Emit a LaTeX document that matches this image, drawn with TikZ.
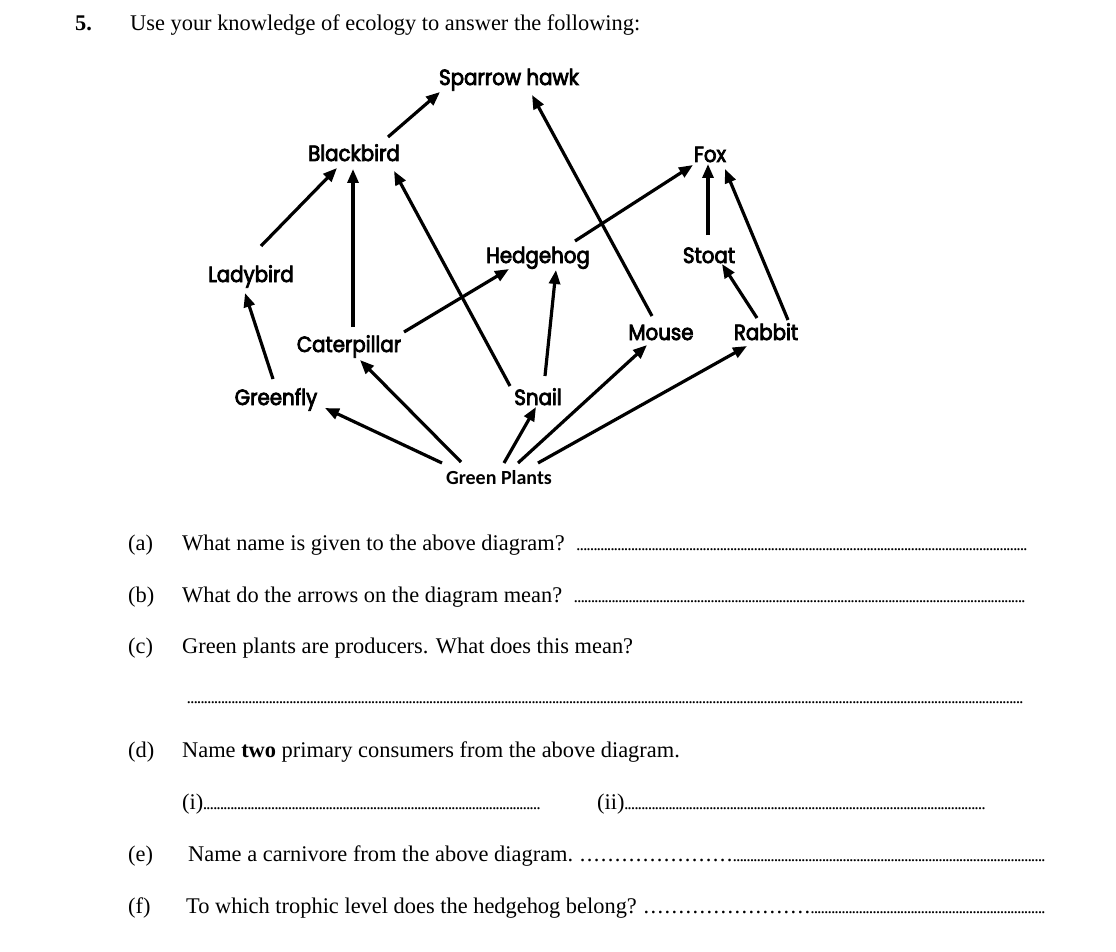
\documentclass[tikz,border=0pt]{standalone}
\usepackage{fontspec}
\setmainfont{Liberation Serif}
\newfontfamily\diagfont[FakeBold=3.5,FakeStretch=0.9]{Poppins}
\newfontfamily\gpfont{Carlito}
\usetikzlibrary{arrows.meta}
\newcommand\dd{\xleaders\hbox to 3.4pt{\hss\fontsize{18}{18}\selectfont.\hss}\hfill}
\newcommand\dsp[1]{\hbox to #1{\xleaders\hbox to 7pt{\hss.\hss}\hfill}}
\begin{document}
\begin{tikzpicture}[x=1pt,y=-1pt,
  lab/.style={anchor=base, inner sep=0pt, font=\diagfont\fontsize{22}{22}\selectfont},
  gp/.style={anchor=base, inner sep=0pt, font=\gpfont\bfseries\fontsize{20}{20}\selectfont},
  q/.style={anchor=base west, inner sep=0pt, font=\fontsize{22.4}{26}\selectfont},
  arr/.style={line width=3.2pt, -{Triangle[length=14pt,width=11pt]}}]
\useasboundingbox[fill=white] (0,0) rectangle (1116,952);
% food web nodes
\node[lab] (sh) at (509,85) {Sparrow hawk};
\node[lab] (bb) at (354,161) {Blackbird};
\node[lab] (fox) at (710,162) {Fox};
\node[lab] (hh) at (538,263) {Hedgehog};
\node[lab] (st) at (709,263) {Stoat};
\node[lab] (lb) at (251,282) {Ladybird};
\node[lab] (cat) at (349,352) {Caterpillar};
\node[lab] (ms) at (661,340) {Mouse};
\node[lab] (rb) at (766,340) {Rabbit};
\node[lab] (gf) at (276,405) {Greenfly};
\node[lab] (sn) at (538,405) {Snail};
\node[gp] (gpl) at (499,484) {Green Plants};
% arrows
\draw[arr] ([shift={(34,-24)}]bb.base) -- ([shift={(-69,7)}]sh.base);
\draw[arr] ([shift={(10,-36)}]lb.base) -- ([shift={(-17,7)}]bb.base);
\draw[arr] ([shift={(4,-25)}]cat.base) -- ([shift={(-1,8)}]bb.base);
\draw[arr] ([shift={(-28,-19)}]sn.base) -- ([shift={(40,10)}]bb.base);
\draw[arr] ([shift={(-9,-24)}]ms.base) -- ([shift={(23,10)}]sh.base);
\draw[arr] ([shift={(37,-22)}]hh.base) -- ([shift={(-17,3)}]fox.base);
\draw[arr] ([shift={(-1,-28)}]st.base) -- ([shift={(-2,2)}]fox.base);
\draw[arr] ([shift={(22,-20)}]rb.base) -- ([shift={(15,7)}]fox.base);
\draw[arr] ([shift={(55,-20)}]cat.base) -- ([shift={(-29,6)}]hh.base);
\draw[arr] ([shift={(7,-29)}]sn.base) -- ([shift={(18,7)}]hh.base);
\draw[arr] ([shift={(-9,-22)}]rb.base) -- ([shift={(13,1)}]st.base);
\draw[arr] ([shift={(-3,-26)}]gf.base) -- ([shift={(-6,11)}]lb.base);
\draw[arr] ([shift={(-57,-21)}]gpl.base) -- ([shift={(49,3)}]gf.base);
\draw[arr] ([shift={(-38,-22)}]gpl.base) -- ([shift={(11,8)}]cat.base);
\draw[arr] ([shift={(5,-21)}]gpl.base) -- ([shift={(-2,2)}]sn.base);
\draw[arr] ([shift={(19,-21)}]gpl.base) -- ([shift={(-14,5)}]ms.base);
\draw[arr] ([shift={(39,-21)}]gpl.base) -- ([shift={(-19,6)}]rb.base);
% questions
\node[q] (n5) at (75,31) {\bfseries 5.};
\node[q] (title) at (130,31) {Use your knowledge of ecology to answer the following:};
\node[q] (la) at (128,550) {(a)};
\node[q] (qa) at (182,550) {\hbox to 845pt{What name is given to the above diagram?\hskip 12pt\dd}};
\node[q] (lbq) at (128,602) {(b)};
\node[q] (qb) at (182,602) {\hbox to 843pt{What do the arrows on the diagram mean?\hskip 12pt\dd}};
\node[q] (lc) at (128,653) {(c)};
\node[q] (qc) at (182,653) {Green plants are producers. What does this mean?};
\node[q] (dc) at (187,703) {\hbox to 836pt{\dd}};
\node[q] (ld) at (128,757) {(d)};
\node[q] (qd) at (182,757) {Name \textbf{two} primary consumers from the above diagram.};
\node[q] (qdi) at (182,809) {\hbox to 358pt{(i)\dd}};
\node[q] (qdii) at (597,809) {\hbox to 388pt{(ii)\dd}};
\node[q] (le) at (128,861) {(e)};
\node[q] (qe) at (188,861) {\hbox to 857pt{Name a carnivore from the above diagram.\hskip 6pt\dsp{154pt}\dd}};
\node[q] (lf) at (128,913) {(f)};
\node[q] (qf) at (186,913) {\hbox to 859pt{To which trophic level does the hedgehog belong?\hskip 6pt\dsp{168pt}\dd}};
\end{tikzpicture}
\end{document}
